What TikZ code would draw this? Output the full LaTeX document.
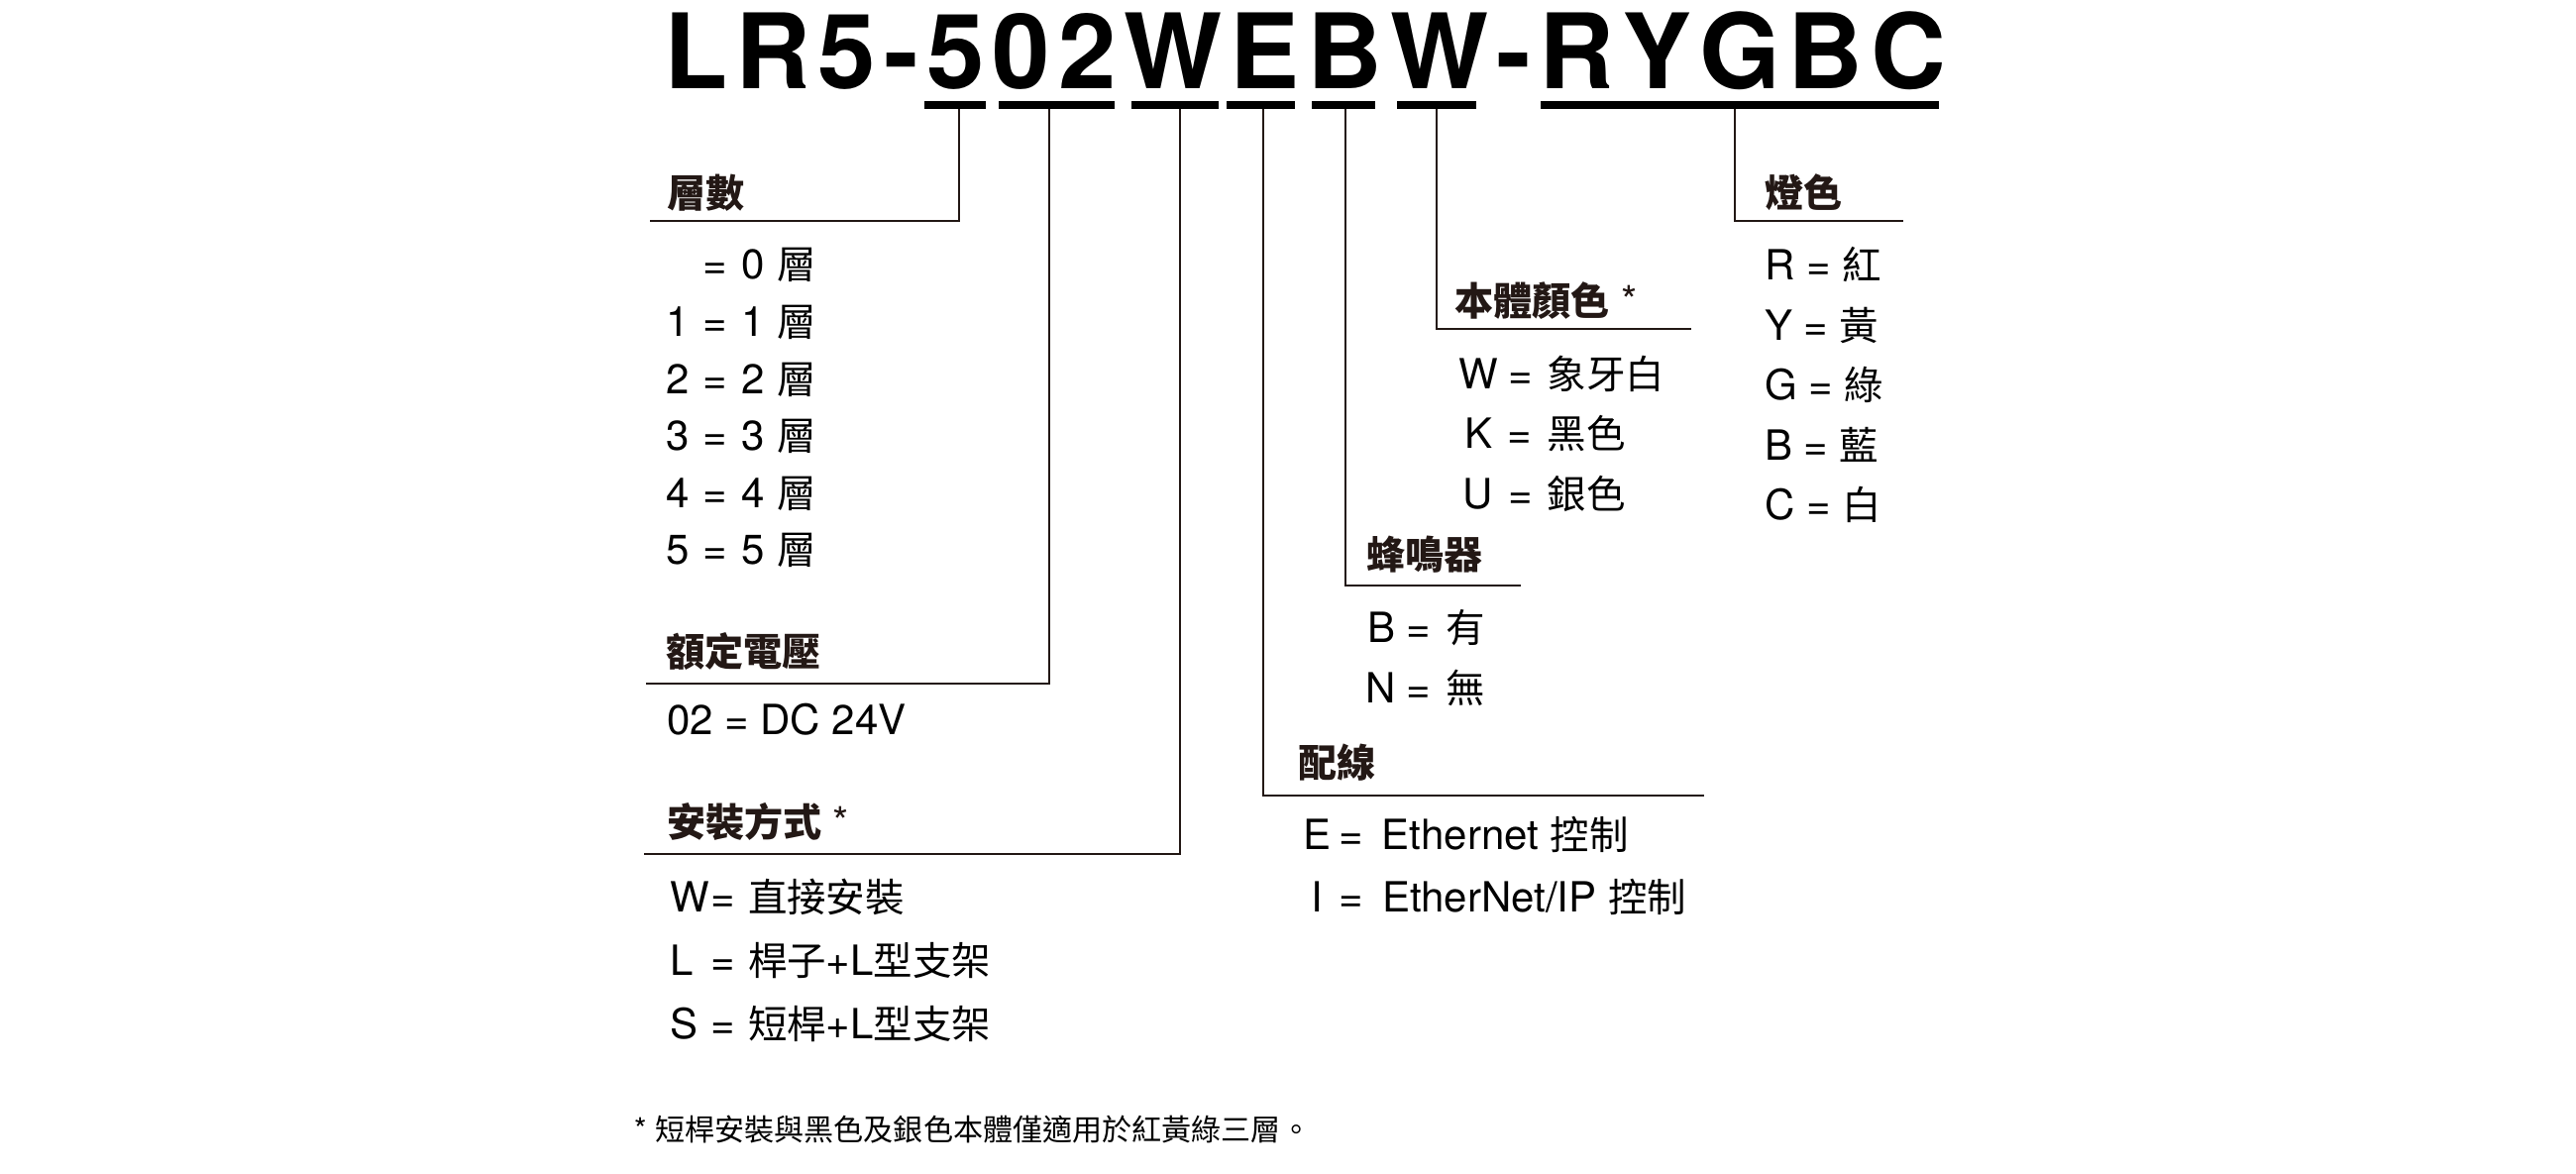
\documentclass[tikz,border=0pt]{standalone}
\usepackage{fontspec}
\setmainfont{TeX Gyre Heros}
\newfontfamily\cjk[Scale=0.94]{Noto Sans CJK TC}
\newcommand\C[1]{{\cjk #1}}
\newcommand\trk{\kern2pt}
\newcommand\kv[6][c]{\makebox[#2][#1]{#3}\hspace{#4}\makebox[#5][l]{=}#6}
\definecolor{ink}{HTML}{231815}
\begin{document}
\begin{tikzpicture}[x=0.25pt,y=-0.25pt,
  lbl/.style={inner sep=0pt,outer sep=0pt,anchor=base west,font=\fontsize{10.5pt}{12pt}\selectfont},
  hdr/.style={inner sep=0pt,outer sep=0pt,anchor=base west,text=ink,font=\fontsize{10.4pt}{12pt}\selectfont\bfseries},
  conn/.style={draw=ink,line width=0.55pt},
  codebar/.style={fill=black}]
\useasboundingbox (0,0) rectangle (2600,1185);

% title
\node[inner sep=0pt,outer sep=0pt,anchor=base west,font=\fontsize{26.25pt}{30pt}\selectfont\bfseries] (title) at (670,90)
  {L\trk R\trk 5\trk -\trk 5\trk 0\trk 2\trk W\trk E\trk B\trk W\trk -\trk R\trk Y\trk G\trk B\trk C};

% code bars
\fill[codebar] (933,102) rectangle (995,110);
\fill[codebar] (1008,102) rectangle (1125,110);
\fill[codebar] (1142,102) rectangle (1230,110);
\fill[codebar] (1238,102) rectangle (1307,110);
\fill[codebar] (1324,102) rectangle (1388,110);
\fill[codebar] (1410,102) rectangle (1490,110);
\fill[codebar] (1555,102) rectangle (1957,110);

% connector coordinates
\coordinate (k1) at (968,110);  \coordinate (u1) at (656,223);
\coordinate (k2) at (1059,110); \coordinate (u2) at (652,690);
\coordinate (k3) at (1191,110); \coordinate (u3) at (650,862);
\coordinate (k4) at (1275,110); \coordinate (u4) at (1720,803);
\coordinate (k5) at (1358,110); \coordinate (u5) at (1535,591);
\coordinate (k6) at (1450,110); \coordinate (u6) at (1707,332);
\coordinate (k7) at (1751,110); \coordinate (u7) at (1921,223);
\foreach \i in {1,...,7} \draw[conn] (k\i) |- (u\i);

% headers
\node[hdr] (h1) at (673.5,210) {\C{層數}};
\node[hdr] (h2) at (672.5,672) {\C{額定電壓}};
\node[hdr] (h3) at (673,845) {\C{安裝方式} {\mdseries *}};
\node[hdr] (h4) at (1310.5,785) {\C{配線}};
\node[hdr] (h5) at (1379.5,575) {\C{蜂鳴器}};
\node[hdr] (h6) at (1468.5,319) {\C{本體顏色} {\mdseries *}};
\node[hdr] (h7) at (1781.5,210) {\C{燈色}};

% 層數
\node[lbl] (a0) at (672,282)   {\kv[l]{9.375pt}{}{0pt}{9.875pt}{0 \C{層}}};
\node[lbl] (a1) at (672,339.6) {\kv[l]{9.375pt}{1}{0pt}{9.875pt}{1 \C{層}}};
\node[lbl] (a2) at (672,397.2) {\kv[l]{9.375pt}{2}{0pt}{9.875pt}{2 \C{層}}};
\node[lbl] (a3) at (672,454.8) {\kv[l]{9.375pt}{3}{0pt}{9.875pt}{3 \C{層}}};
\node[lbl] (a4) at (672,512.4) {\kv[l]{9.375pt}{4}{0pt}{9.875pt}{4 \C{層}}};
\node[lbl] (a5) at (672,570)   {\kv[l]{9.375pt}{5}{0pt}{9.875pt}{5 \C{層}}};

% 額定電壓
\node[lbl] (v1) at (673,742) {02 = DC 24V};

% 安裝方式
\node[lbl] (m1) at (676,920)  {\kv[l]{10.25pt}{W}{0pt}{9.5pt}{\C{直接安裝}}};
\node[lbl] (m2) at (676,984)  {\kv[l]{10.25pt}{L}{0pt}{9.5pt}{\C{桿子}+L\C{型支架}}};
\node[lbl] (m3) at (676,1048) {\kv[l]{10.25pt}{S}{0pt}{9.5pt}{\C{短桿}+L\C{型支架}}};

% 配線
\node[lbl] (e1) at (1315,858) {\kv{7pt}{E}{2.2pt}{10.8pt}{Ethernet \C{控制}}};
\node[lbl] (e2) at (1315,920) {\kv{7pt}{I}{2.2pt}{10.8pt}{EtherNet/IP \C{控制}}};

% 蜂鳴器
\node[lbl] (z1) at (1379,649) {\kv{7.5pt}{B}{2.625pt}{9.875pt}{\C{有}}};
\node[lbl] (z2) at (1379,710) {\kv{7.5pt}{N}{2.625pt}{9.875pt}{\C{無}}};

% 本體顏色
\node[lbl] (c1) at (1472,392.5) {\kv{10pt}{W}{2.5pt}{9.9pt}{\C{象牙白}}};
\node[lbl] (c2) at (1472,453)   {\kv{10pt}{K}{2.5pt}{9.9pt}{\C{黑色}}};
\node[lbl] (c3) at (1472,513.5) {\kv{10pt}{U}{2.5pt}{9.9pt}{\C{銀色}}};

% 燈色
\node[lbl] (l1) at (1781,283)   {R = \C{紅}};
\node[lbl] (l2) at (1781,343.5) {Y = \C{黃}};
\node[lbl] (l3) at (1781,404)   {G = \C{綠}};
\node[lbl] (l4) at (1781,464.5) {B = \C{藍}};
\node[lbl] (l5) at (1781,525)   {C = \C{白}};

% footnote
\node[inner sep=0pt,outer sep=0pt,anchor=base west,font=\fontsize{8pt}{10pt}\selectfont] (fn) at (640,1151)
  {* \C{短桿安裝與黑色及銀色本體僅適用於紅黃綠三層。}};
\end{tikzpicture}
\end{document}
